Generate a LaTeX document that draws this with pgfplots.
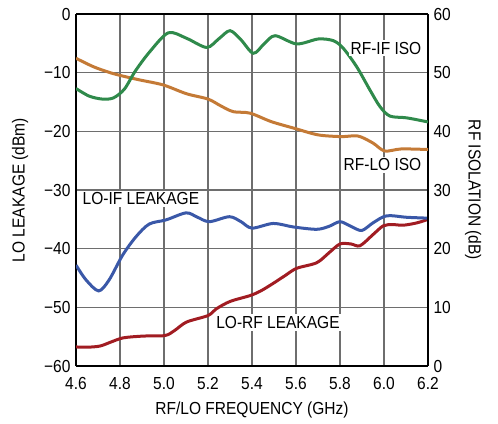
\documentclass[border=0pt]{standalone}
\usepackage{pgfplots}
\pgfplotsset{compat=1.18}
\usepackage{fontspec}
\setmainfont{Liberation Sans}[FakeStretch=0.89]
\definecolor{cgreen}{RGB}{47,138,75}
\definecolor{corange}{RGB}{196,122,54}
\definecolor{cblue}{RGB}{58,88,168}
\definecolor{cred}{RGB}{161,28,34}
\definecolor{cgrid}{RGB}{110,110,110}
\newcommand{\lfont}{\fontsize{17.5}{19}\selectfont}
\pgfplotsset{
  common/.style={
    at={(76bp,58bp)}, anchor=south west, scale only axis,
    width=352bp, height=352bp,
    xmin=4.6, xmax=6.2,
    major tick length=0pt,
    tick label style={font=\lfont},
    /pgf/number format/assume math mode=true,
    axis line style={line width=1.4bp},
  }
}
\begin{document}
\begin{tikzpicture}
\useasboundingbox (0,0) rectangle (498bp,424bp);
\begin{axis}[common,
  ymin=-60, ymax=0,
  xtick={4.6,4.8,5.0,5.2,5.4,5.6,5.8,6.0,6.2},
  xticklabels={4.6,4.8,5.0,5.2,5.4,5.6,5.8,6.0,6.2},
  ytick={-60,-50,-40,-30,-20,-10,0},
  yticklabels={−60,−50,−40,−30,−20,−10,0},
  grid=major,
  major grid style={cgrid, line width=1.1bp},
  axis y line*=left, axis x line*=box,
  xticklabel style={yshift=-8bp},
  yticklabel style={xshift=-2bp},
  xlabel={RF/LO FREQUENCY (GHz)},
  ylabel={LO LEAKAGE (dBm)},
  every axis x label/.style={at={(axis description cs:0.5,-0.125)}, anchor=center, font=\lfont},
  every axis y label/.style={at={(axis description cs:-0.159,0.5)}, rotate=90, anchor=center, font=\lfont},
]
% LO-RF leakage (red)
\addplot[cred, line width=3bp, smooth] coordinates {
(4.600,-56.75) (4.650,-56.8) (4.709,-56.6) (4.760,-55.9) (4.815,-55.2) (4.906,-54.9)
(5.005,-54.8) (5.050,-53.9) (5.103,-52.5) (5.200,-51.4) (5.236,-50.3) (5.300,-49.0)
(5.391,-48.0) (5.440,-47.2) (5.497,-45.9) (5.550,-44.6) (5.603,-43.35) (5.694,-42.4)
(5.750,-40.7) (5.800,-39.2) (5.850,-39.2) (5.891,-39.5) (5.950,-37.6) (5.997,-36.1)
(6.040,-35.9) (6.088,-36.0) (6.150,-35.6) (6.200,-35.0)
};
% LO-IF leakage (blue)
\addplot[cblue, line width=3bp, smooth] coordinates {
(4.600,-42.8) (4.645,-45.3) (4.703,-47.2) (4.751,-45.3) (4.812,-41.1) (4.873,-37.95)
(4.933,-35.8) (5.009,-35.1) (5.100,-33.9) (5.150,-34.6) (5.206,-35.4) (5.297,-34.55)
(5.350,-35.4) (5.400,-36.5) (5.497,-35.7) (5.588,-36.3) (5.694,-36.7) (5.750,-36.2)
(5.800,-35.4) (5.850,-36.2) (5.899,-36.9) (5.950,-35.6) (6.012,-34.4) (6.103,-34.65)
(6.200,-34.8)
};
\end{axis}
\begin{axis}[common,
  ymin=0, ymax=60,
  axis x line=none, axis y line*=right,
  ytick={0,10,20,30,40,50,60},
  yticklabels={0,10,20,30,40,50,60},
  yticklabel style={xshift=2bp},
  ylabel={RF ISOLATION (dB)},
  every axis y label/.style={at={(axis description cs:1.128,0.5)}, rotate=-90, anchor=center, font=\lfont},
]
% RF-LO ISO (orange)
\addplot[corange, line width=3bp, smooth] coordinates {
(4.600,52.45) (4.680,51.0) (4.755,50.0) (4.815,49.4) (4.891,48.75) (4.997,47.9)
(5.103,46.4) (5.200,45.5) (5.260,44.3) (5.315,43.35) (5.391,43.1) (5.488,41.65)
(5.594,40.5) (5.700,39.4) (5.806,39.1) (5.882,39.2) (5.950,38.0) (6.003,36.65)
(6.079,37.0) (6.200,36.9)
};
% RF-IF ISO (green)
\addplot[cgreen, line width=3bp, smooth] coordinates {
(4.600,47.3) (4.660,46.0) (4.720,45.5) (4.770,45.7) (4.820,47.2) (4.870,50.3)
(4.936,53.6) (5.020,56.8) (5.103,55.85) (5.194,54.3) (5.250,55.8) (5.300,57.16)
(5.350,55.6) (5.406,53.3) (5.455,54.9) (5.505,56.3) (5.603,54.9) (5.701,55.74)
(5.770,55.45) (5.815,54.15) (5.876,51.0) (5.936,47.05) (5.982,44.2) (6.027,42.6)
(6.103,42.3) (6.200,41.6)
};
\node[fill=white, inner sep=2bp, font=\lfont] at (axis cs:4.895,28.5) {LO-IF LEAKAGE};
\node[fill=white, inner sep=2bp, font=\lfont] at (axis cs:5.518,7.4) {LO-RF LEAKAGE};
\node[fill=white, inner sep=2bp, font=\lfont] at (axis cs:6.009,54.2) {RF-IF ISO};
\node[fill=white, inner sep=2bp, font=\lfont] at (axis cs:5.993,34.3) {RF-LO ISO};
\node[font=\fontsize{7}{8}\selectfont, anchor=center] at (axis description cs:1.122,-0.153) {5577 G38};
\end{axis}
\end{tikzpicture}
\end{document}
